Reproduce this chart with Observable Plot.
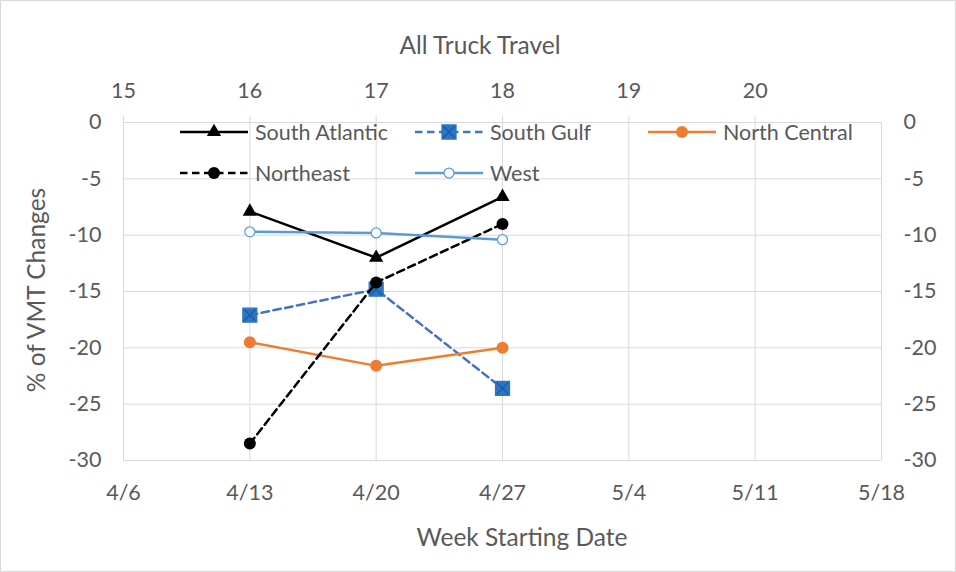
<!DOCTYPE html>
<html><head><meta charset="utf-8">
<script src="https://cdn.jsdelivr.net/npm/d3@7"></script>
<script src="https://cdn.jsdelivr.net/npm/@observablehq/plot@0.6"></script>
<style>
body{margin:0;background:#fff;}
#chart svg{display:block; outline:1px solid #d9d9d9; outline-offset:-1px; font-family: Lato, "Open Sans", sans-serif;}
</style></head><body><div id="chart"></div>
<script>
// ---- data ----
const weekLabels = ["4/6","4/13","4/20","4/27","5/4","5/11","5/18"];
const weekNumbers = [15,16,17,18,19,20];
const dataWeeks = ["4/13","4/20","4/27"];
const seriesNames = ["South Atlantic","South Gulf","North Central","Northeast","West"];
const southAtlantic = [-7.9,-12.0,-6.6];
const southGulf = [-17.1,-14.8,-23.6];
const northCentral = [-19.5,-21.6,-20.0];
const northeast = [-28.5,-14.2,-9.0];
const west = [-9.7,-9.8,-10.4];
const yTicks = [0,-5,-10,-15,-20,-25,-30];
const title = "All Truck Travel";
const xTitle = "Week Starting Date";
const yTitle = "% of VMT Changes";

// ---- styles ----
const parse = s => d3.utcParse("%m/%d/%Y")(s + "/2020");
const dates = weekLabels.map(parse);
const labelOf = new Map(dates.map((d, i) => [+d, weekLabels[i]]));
const weekOf = new Map(dates.slice(0, weekNumbers.length).map((d, i) => [+d, String(weekNumbers[i])]));
const seriesValues = [southAtlantic, southGulf, northCentral, northeast, west];
const styles = [
  {stroke: "#000000", dash: null, symbol: "triangle", r: 5.3, fill: "#000000", mstroke: "none"},
  {stroke: "#4472C4", dash: "7.5,4.5", symbol: "square", r: 7.9, fill: "#2E75C6", mstroke: "#2E75C6", cross: "#1A5DA8"},
  {stroke: "#ED7D31", dash: null, symbol: "circle", r: 6, fill: "#ED7D31", mstroke: "none"},
  {stroke: "#000000", dash: "7.5,4.5", symbol: "circle", r: 6, fill: "#000000", mstroke: "none"},
  {stroke: "#5B9BD5", dash: null, symbol: "circle", r: 5, fill: "#ffffff", mstroke: "#5B9BD5"}
];
const rows = seriesNames.flatMap((name, si) =>
  dataWeeks.map((w, i) => ({series: name, si, date: parse(w), value: seriesValues[si][i]})));

const textColor = "#595959";
const grid = "#d9d9d9";
const fs = 21.5;
const tfs = 24.5;

const marks = [
  Plot.gridX(dates, {stroke: grid, strokeOpacity: 1, strokeWidth: 1}),
  Plot.gridY(yTicks, {stroke: grid, strokeOpacity: 1, strokeWidth: 1}),
  Plot.axisX(dates, {anchor: "bottom", tickSize: 0, tickPadding: 24, tickFormat: d => labelOf.get(+d), fontSize: fs, fill: textColor, label: null}),
  Plot.axisX(dates.slice(0, weekNumbers.length), {anchor: "top", tickSize: 7, stroke: grid, strokeOpacity: 1, tickPadding: 18, tickFormat: d => weekOf.get(+d), fontSize: fs, fill: textColor, label: null}),
  Plot.axisY(yTicks, {anchor: "left", tickSize: 0, tickPadding: 22, tickFormat: d => String(d), fontSize: fs, fill: textColor, label: null}),
  Plot.axisY(yTicks, {anchor: "right", tickSize: 0, tickPadding: 22, tickFormat: d => String(d), fontSize: fs, fill: textColor, label: null})
];
seriesNames.forEach((name, si) => {
  const st = styles[si];
  const d = rows.filter(r => r.si === si);
  marks.push(Plot.line(d, {x: "date", y: "value", stroke: st.stroke, strokeWidth: 2.5, strokeDasharray: st.dash, curve: "linear"}));
  marks.push(Plot.dot(d, {x: "date", y: "value", symbol: st.symbol, r: st.r, fill: st.fill, stroke: st.mstroke, strokeWidth: 1.25}));
  if (st.cross) marks.push(Plot.dot(d, {x: "date", y: "value", symbol: "times", r: 5.4, stroke: st.cross, strokeWidth: 1.5}));
});

const plot = Plot.plot({
  width: 956, height: 572,
  marginLeft: 123, marginRight: 75, marginTop: 122, marginBottom: 112,
  x: {type: "utc", domain: [dates[0], dates[dates.length - 1]]},
  y: {domain: [-30, 0]},
  style: {fontFamily: "Lato, 'Open Sans', sans-serif", background: "#fff"},
  marks
});
document.getElementById("chart").append(plot);

// ---- titles & legend (layout) ----
const svg = d3.select(plot);
svg.append("text").attr("x", 480).attr("y", 45).attr("dy", "0.35em").attr("text-anchor", "middle")
  .attr("fill", textColor).attr("font-size", tfs).text(title);
svg.append("text").attr("x", 522).attr("y", 537).attr("dy", "0.35em").attr("text-anchor", "middle")
  .attr("fill", textColor).attr("font-size", tfs).text(xTitle);
svg.append("text").attr("transform", "translate(36,290) rotate(-90)").attr("dy", "0.35em").attr("text-anchor", "middle")
  .attr("fill", textColor).attr("font-size", tfs).text(yTitle);

const legendPos = [[180, 132], [415, 132], [648, 132], [180, 173], [415, 173]];
const symMap = {triangle: d3.symbolTriangle, square: d3.symbolSquare, circle: d3.symbolCircle, times: d3.symbolTimes};
const lg = svg.append("g");
seriesNames.forEach((name, si) => {
  const st = styles[si];
  const [lx, ly] = legendPos[si];
  const g = lg.append("g").attr("transform", `translate(${lx},${ly})`);
  g.append("line").attr("x1", 0).attr("x2", 68).attr("y1", 0).attr("y2", 0)
    .attr("stroke", st.stroke).attr("stroke-width", 2.5).attr("stroke-dasharray", st.dash);
  g.append("path").attr("transform", "translate(34,0)")
    .attr("d", d3.symbol(symMap[st.symbol], Math.PI * st.r * st.r)())
    .attr("fill", st.fill).attr("stroke", st.mstroke).attr("stroke-width", 1.25);
  if (st.cross) g.append("path").attr("transform", "translate(34,0)")
    .attr("d", d3.symbol(d3.symbolTimes, Math.PI * 5.4 * 5.4)())
    .attr("fill", "none").attr("stroke", st.cross).attr("stroke-width", 1.5);
  g.append("text").attr("x", 75).attr("y", 0).attr("dy", "0.35em").attr("text-anchor", "start").attr("fill", textColor)
    .attr("font-size", fs).text(name);
});
</script></body></html>
